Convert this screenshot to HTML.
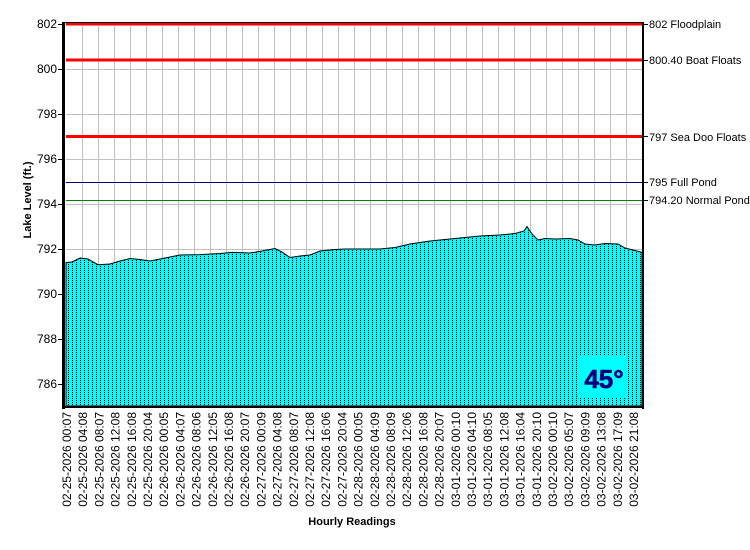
<!DOCTYPE html>
<html><head><meta charset="utf-8"><style>
html,body{margin:0;padding:0;background:#fff;}
svg{display:block;font-family:"Liberation Sans",Arial,sans-serif;}
</style></head><body>
<svg width="750" height="550" viewBox="0 0 750 550" xmlns="http://www.w3.org/2000/svg">
<defs>
<pattern id="p" x="66" y="0" width="4" height="2" patternUnits="userSpaceOnUse">
<rect width="4" height="2" fill="#00FFFF"/>
<rect x="2" y="0" width="1" height="1" fill="#000"/>
</pattern>
</defs>
<rect width="750" height="550" fill="#fff"/>
<g stroke="#c0c0c0" stroke-width="1">
<path d="M82.5 24V406M98.5 24V406M114.5 24V406M130.5 24V406M146.5 24V406M162.5 24V406M178.5 24V406M194.5 24V406M210.5 24V406M226.5 24V406M242.5 24V406M258.5 24V406M274.5 24V406M290.5 24V406M306.5 24V406M322.5 24V406M338.5 24V406M354.5 24V406M370.5 24V406M386.5 24V406M402.5 24V406M418.5 24V406M434.5 24V406M450.5 24V406M466.5 24V406M482.5 24V406M498.5 24V406M514.5 24V406M530.5 24V406M546.5 24V406M562.5 24V406M578.5 24V406M594.5 24V406M610.5 24V406M626.5 24V406"/>
<path d="M66 69.5H642M66 114.5H642M66 159.5H642M66 204.5H642M66 249.5H642M66 294.5H642M66 339.5H642M66 384.5H642"/>
</g>
<polygon fill="url(#p)" stroke="#000" stroke-width="1" points="66,262.5 72,262 80,258 88,259 98,264.7 110,264 120,261 130,258.5 140,259.5 150,261 160,259 170,257 180,255 200,254.6 220,253.5 232,252.4 250,253 262,251 275,248.5 282,252 290,257.5 300,256 310,255 320,251 335,249.5 345,249 360,249 380,249 395,247.5 410,244 430,241 445,239.5 455,238.5 470,237 480,236 500,235 515,233.5 524,231 527,226.5 532,234 538,240 545,238.5 555,239 570,238.5 578,240 585,244 595,245 605,243.5 618,244 625,248 633,250 642,252.4 642,406 66,406"/>
<rect x="578" y="355" width="50" height="43" fill="#00FFFF"/>
<text x="604" y="388" font-size="26" font-weight="bold" fill="#000080" text-anchor="middle" stroke="#000080" stroke-width="0.6">45°</text>
<g>
<line x1="66" y1="24" x2="642" y2="24" stroke="#ff0000" stroke-width="3"/>
<line x1="66" y1="60" x2="642" y2="60" stroke="#ff0000" stroke-width="3"/>
<line x1="66" y1="136.5" x2="642" y2="136.5" stroke="#ff0000" stroke-width="3"/>
<line x1="66" y1="182.5" x2="642" y2="182.5" stroke="#000080" stroke-width="1"/>
<line x1="66" y1="200.5" x2="642" y2="200.5" stroke="#008000" stroke-width="1"/>
</g>
<rect x="62" y="22" width="3" height="387" fill="#000"/>
<rect x="642" y="22" width="2" height="387" fill="#000"/>
<rect x="62" y="406" width="582" height="2" fill="#000"/>
<line x1="62" y1="22.5" x2="644" y2="22.5" stroke="#000" stroke-width="1"/>
<g stroke="#000" stroke-width="1">
<path d="M58 24.5H62M58 69.5H62M58 114.5H62M58 159.5H62M58 204.5H62M58 249.5H62M58 294.5H62M58 339.5H62M58 384.5H62"/>
<path d="M644 24.5H648M644 60.5H648M644 136.5H648M644 182.5H648M644 200.5H648"/>
</g>
<g font-size="12" text-anchor="end" fill="#000">
<text x="57" y="28">802</text><text x="57" y="73">800</text><text x="57" y="118">798</text><text x="57" y="163">796</text><text x="57" y="208">794</text><text x="57" y="253">792</text><text x="57" y="298">790</text><text x="57" y="343">788</text><text x="57" y="388">786</text>
</g>
<g font-size="11" fill="#000">
<text x="649" y="28">802 Floodplain</text>
<text x="649" y="64">800.40 Boat Floats</text>
<text x="649" y="141">797 Sea Doo Floats</text>
<text x="649" y="186">795 Full Pond</text>
<text x="649" y="204">794.20 Normal Pond</text>
</g>
<text transform="translate(31,200) rotate(-90)" font-size="11" font-weight="bold" text-anchor="middle">Lake Level (ft.)</text>
<text x="352" y="525" font-size="11" font-weight="bold" text-anchor="middle">Hourly Readings</text>
<g font-size="12" fill="#000" text-anchor="end">
<text transform="translate(71,412) rotate(-90)">02-25-2026 00:07</text>
<text transform="translate(87.2,412) rotate(-90)">02-25-2026 04:08</text>
<text transform="translate(103.4,412) rotate(-90)">02-25-2026 08:07</text>
<text transform="translate(119.6,412) rotate(-90)">02-25-2026 12:08</text>
<text transform="translate(135.8,412) rotate(-90)">02-25-2026 16:08</text>
<text transform="translate(152,412) rotate(-90)">02-25-2026 20:04</text>
<text transform="translate(168.2,412) rotate(-90)">02-26-2026 00:05</text>
<text transform="translate(184.4,412) rotate(-90)">02-26-2026 04:07</text>
<text transform="translate(200.6,412) rotate(-90)">02-26-2026 08:06</text>
<text transform="translate(216.8,412) rotate(-90)">02-26-2026 12:05</text>
<text transform="translate(233,412) rotate(-90)">02-26-2026 16:08</text>
<text transform="translate(249.2,412) rotate(-90)">02-26-2026 20:07</text>
<text transform="translate(265.4,412) rotate(-90)">02-27-2026 00:09</text>
<text transform="translate(281.6,412) rotate(-90)">02-27-2026 04:08</text>
<text transform="translate(297.8,412) rotate(-90)">02-27-2026 08:07</text>
<text transform="translate(314,412) rotate(-90)">02-27-2026 12:08</text>
<text transform="translate(330.2,412) rotate(-90)">02-27-2026 16:06</text>
<text transform="translate(346.4,412) rotate(-90)">02-27-2026 20:04</text>
<text transform="translate(362.6,412) rotate(-90)">02-28-2026 00:05</text>
<text transform="translate(378.8,412) rotate(-90)">02-28-2026 04:09</text>
<text transform="translate(395,412) rotate(-90)">02-28-2026 08:09</text>
<text transform="translate(411.2,412) rotate(-90)">02-28-2026 12:06</text>
<text transform="translate(427.4,412) rotate(-90)">02-28-2026 16:08</text>
<text transform="translate(443.6,412) rotate(-90)">02-28-2026 20:07</text>
<text transform="translate(459.8,412) rotate(-90)">03-01-2026 00:10</text>
<text transform="translate(476,412) rotate(-90)">03-01-2026 04:10</text>
<text transform="translate(492.2,412) rotate(-90)">03-01-2026 08:05</text>
<text transform="translate(508.4,412) rotate(-90)">03-01-2026 12:08</text>
<text transform="translate(524.6,412) rotate(-90)">03-01-2026 16:04</text>
<text transform="translate(540.8,412) rotate(-90)">03-01-2026 20:10</text>
<text transform="translate(557,412) rotate(-90)">03-02-2026 00:10</text>
<text transform="translate(573.2,412) rotate(-90)">03-02-2026 05:07</text>
<text transform="translate(589.4,412) rotate(-90)">03-02-2026 09:09</text>
<text transform="translate(605.6,412) rotate(-90)">03-02-2026 13:08</text>
<text transform="translate(621.8,412) rotate(-90)">03-02-2026 17:09</text>
<text transform="translate(638,412) rotate(-90)">03-02-2026 21:08</text>
</g>
</svg>
</body></html>
